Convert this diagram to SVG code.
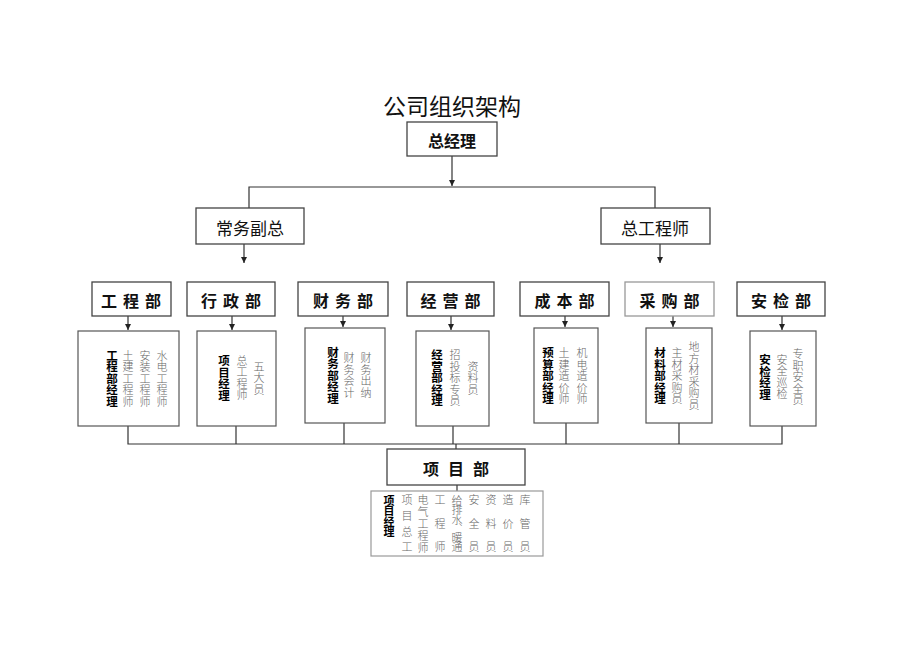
<svg xmlns="http://www.w3.org/2000/svg" width="920" height="651" viewBox="0 0 920 651">
<defs>
<marker id="arr" markerWidth="7" markerHeight="7" refX="6" refY="3.5" orient="auto" markerUnits="userSpaceOnUse"><path d="M0,0.5 L6,3.5 L0,6.5 z" fill="#222"/></marker>
<style>
.box{fill:#fff;stroke:#444;stroke-width:1.3}
.lbox{fill:#fff;stroke:#555;stroke-width:1.2}
.pale{stroke:#999}
.ln{fill:none;stroke:#333;stroke-width:1.2}
.t{font-family:"Noto Sans CJK SC","Noto Sans CJK JP",sans-serif;fill:#111;text-anchor:middle;dominant-baseline:central}
.title{font-size:23px;font-weight:normal}
.h{font-size:16px;font-weight:bold}
.v{font-size:17px;font-weight:normal}
.d{font-size:16px;font-weight:bold;letter-spacing:6px}
.m{font-family:"Noto Sans CJK SC","Noto Sans CJK JP",sans-serif;font-size:11.5px;font-weight:bold;fill:#000;writing-mode:vertical-rl}
.g{font-family:"Noto Sans CJK SC","Noto Sans CJK JP",sans-serif;font-size:11px;font-weight:300;fill:#666;writing-mode:vertical-rl;letter-spacing:0.5px}
.bm{font-family:"Noto Sans CJK SC","Noto Sans CJK JP",sans-serif;font-size:11px;font-weight:bold;fill:#000;writing-mode:vertical-rl;letter-spacing:-0.7px}
.bg{font-family:"Noto Sans CJK SC","Noto Sans CJK JP",sans-serif;font-size:11px;font-weight:300;fill:#666;writing-mode:vertical-rl}
</style>
</defs>
<rect width="920" height="651" fill="#fff"/>

<text id="title" class="t title" x="452" y="105">公司组织架构</text>

<g id="connectors">
<path class="ln" d="M452,156 V186" marker-end="url(#arr)"/>
<path class="ln" d="M249,208 V187 H655 V208"/>
<path class="ln" d="M244,244 V263" marker-end="url(#arr)"/>
<path class="ln" d="M660,244 V263" marker-end="url(#arr)"/>
<path class="ln" d="M128,316 V330" marker-end="url(#arr)"/>
<path class="ln" d="M232,316 V330" marker-end="url(#arr)"/>
<path class="ln" d="M343,316 V327" marker-end="url(#arr)"/>
<path class="ln" d="M451,316 V330" marker-end="url(#arr)"/>
<path class="ln" d="M565,316 V327" marker-end="url(#arr)"/>
<path class="ln" d="M673,316 V327" marker-end="url(#arr)"/>
<path class="ln" d="M782,316 V330" marker-end="url(#arr)"/>
<path class="ln" d="M128,426 V444 H782 V426"/>
<path class="ln" d="M236,426 V444"/>
<path class="ln" d="M344,423 V444"/>
<path class="ln" d="M453,426 V444"/>
<path class="ln" d="M566,423 V444"/>
<path class="ln" d="M679,423 V444"/>
<path class="ln" d="M456,444 V449"/>
<path class="ln" d="M457,485 V491"/>
</g>

<g id="gm">
<rect class="box" x="407" y="122" width="90" height="34"/>
<text class="t h" x="452" y="140">总经理</text>
</g>
<g id="vp">
<rect class="box" x="196" y="208" width="108" height="36"/>
<text class="t v" x="250" y="227">常务副总</text>
</g>
<g id="ce">
<rect class="box" x="601" y="208" width="109" height="36"/>
<text class="t v" x="655" y="227">总工程师</text>
</g>

<g id="dept-eng">
<rect class="box" x="92" y="282" width="79" height="34"/>
<text class="t d" x="134" y="300">工程部</text>
</g>
<g id="dept-adm">
<rect class="box" x="187" y="282" width="88" height="34"/>
<text class="t d" x="234" y="300">行政部</text>
</g>
<g id="dept-fin">
<rect class="box" x="298" y="282" width="90" height="34"/>
<text class="t d" x="346" y="300">财务部</text>
</g>
<g id="dept-biz">
<rect class="box" x="407" y="282" width="87" height="34"/>
<text class="t d" x="453.5" y="300">经营部</text>
</g>
<g id="dept-cost">
<rect class="box" x="520" y="282" width="89" height="34"/>
<text class="t d" x="567.5" y="300">成本部</text>
</g>
<g id="dept-pur">
<rect class="box pale" x="625" y="282" width="89" height="34"/>
<text class="t d" x="672.5" y="300">采购部</text>
</g>
<g id="dept-safe">
<rect class="box" x="737" y="282" width="88" height="34"/>
<text class="t d" x="784" y="300">安检部</text>
</g>

<g id="staff-eng">
<rect class="lbox" x="78" y="331" width="101" height="95"/>
<text class="m" x="112" y="349.75">工程部经理</text>
<text class="g" x="128" y="350">土建工程师</text>
<text class="g" x="145" y="350">安装工程师</text>
<text class="g" x="162" y="350">水电工程师</text>
</g>
<g id="staff-adm">
<rect class="lbox" x="197" y="331" width="79" height="95"/>
<text class="m" x="224" y="355">项目经理</text>
<text class="g" x="242" y="355.25">总工程师</text>
<text class="g" x="259" y="361">五大员</text>
</g>
<g id="staff-fin">
<rect class="lbox" x="305" y="328" width="80" height="95"/>
<text class="m" x="333" y="346.75">财务部经理</text>
<text class="g" x="349" y="352.75">财务会计</text>
<text class="g" x="366" y="352.75">财务出纳</text>
</g>
<g id="staff-biz">
<rect class="lbox" x="416" y="331" width="73" height="95"/>
<text class="m" x="437" y="349.25">经营部经理</text>
<text class="g" x="455" y="349.5">招投标专员</text>
<text class="g" x="473" y="361">资料员</text>
</g>
<g id="staff-cost">
<rect class="lbox" x="534" y="328" width="64" height="95"/>
<text class="m" x="548" y="347.25">预算部经理</text>
<text class="g" x="564" y="347.5">土建造价师</text>
<text class="g" x="582" y="347.5">机电造价师</text>
</g>
<g id="staff-pur">
<rect class="lbox" x="646" y="328" width="66" height="95"/>
<text class="m" x="660" y="347.25">材料部经理</text>
<text class="g" x="677" y="347.5">主材采购员</text>
<text class="g" x="694" y="341.75">地方材采购员</text>
</g>
<g id="staff-safe">
<rect class="lbox" x="750" y="331" width="66" height="95"/>
<text class="m" x="765" y="354">安检经理</text>
<text class="g" x="782" y="354.25">安全巡检</text>
<text class="g" x="798" y="348.5">专职安全员</text>
</g>

<g id="proj">
<rect class="box" x="387" y="449" width="138" height="36"/>
<text class="t d" x="460.5" y="468" style="letter-spacing:9px">项目部</text>
</g>
<g id="proj-staff">
<rect class="lbox pale" x="371" y="491" width="172" height="65"/>
<text class="bm" x="389" y="495.5">项目经理</text>
<text class="bg" x="407" y="494.5" style="letter-spacing:4.7px">项目总工</text>
<text class="bg" x="423" y="494.5" style="letter-spacing:1px">电气工程师</text>
<text class="bg" x="440" y="494.5" style="letter-spacing:12.5px">工程师</text>
<text class="bg" x="457" y="495.5" style="letter-spacing:-1.8px">给排水、暖通</text>
<text class="bg" x="474" y="494.5" style="letter-spacing:12.5px">安全员</text>
<text class="bg" x="491" y="494.5" style="letter-spacing:12.5px">资料员</text>
<text class="bg" x="508" y="494.5" style="letter-spacing:12.5px">造价员</text>
<text class="bg" x="525" y="494.5" style="letter-spacing:12.5px">库管员</text>
</g>
</svg>
